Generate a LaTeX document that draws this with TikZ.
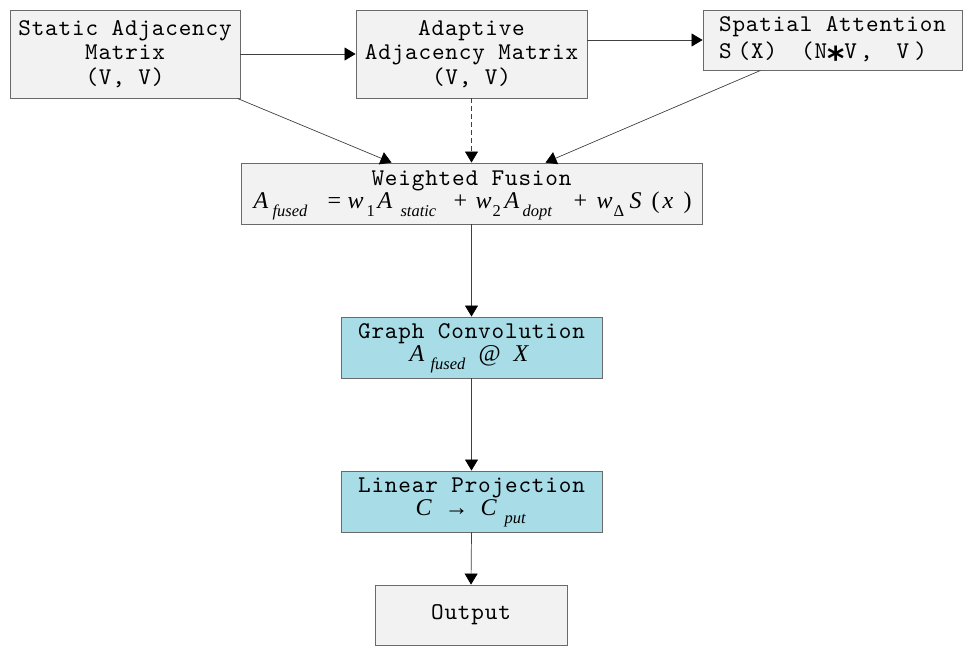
\documentclass[tikz,border=0pt]{standalone}
\usepackage{fontspec}
\setmainfont{Liberation Serif}
\newfontfamily\monofam[LetterSpace=3.5]{lmmono10-regular.otf}
\usetikzlibrary{arrows.meta}
\definecolor{boxgray}{HTML}{F2F2F2}
\definecolor{boxblue}{HTML}{A8DCE7}
\definecolor{boxline}{HTML}{6A6A6A}
\definecolor{linegray}{HTML}{404040}
\newcommand{\mt}{\monofam\fontsize{24}{24.5}\selectfont}
\newcommand{\mi}[1]{{\rmfamily\fontsize{24}{24}\selectfont\itshape #1}}
\newcommand{\mr}[1]{{\rmfamily\fontsize{24}{24}\selectfont #1}}
\newcommand{\sbi}[1]{\raisebox{-8pt}{\rmfamily\fontsize{16.5}{16.5}\selectfont\itshape #1}}
\newcommand{\sbu}[1]{\raisebox{-8pt}{\rmfamily\fontsize{16.5}{16.5}\selectfont #1}}
\newcommand{\pc}[2]{\makebox[0pt][l]{\hspace{#1pt}#2}}
\newcommand{\starsym}{\raisebox{-12pt}{\fontspec{DejaVu Sans}\fontsize{33}{33}\selectfont\bfseries *}}
\begin{document}
\begin{tikzpicture}[x=1pt,y=-1pt,
  box/.style={draw=boxline,line width=0.9pt,fill=boxgray,inner sep=0pt,align=center,font=\mt},
  bluebox/.style={box,fill=boxblue},
  arr/.style={draw=linegray,line width=0.7pt,-{Triangle[length=11pt,width=13pt,color=black]}}]
\useasboundingbox (0,0) rectangle (973,656);
\node[box,minimum width=230pt,minimum height=88pt] (static) at (125,54) {Static Adjacency\\Matrix\\(V, V)};
\node[box,minimum width=231pt,minimum height=88pt] (adapt) at (471.5,54) {Adaptive\\Adjacency Matrix\\(V, V)};
\node[box,align=left,minimum width=259pt,minimum height=60pt] (spat) at (832.5,40) {\rule{0pt}{21pt}Spatial Attention\\[2.5pt]S\hspace{6pt}(X)\hspace{24pt}(N\hspace{0pt}\starsym\hspace{0pt}V\hspace{3pt},\hspace{24pt}V\hspace{5pt})};
\node[box,minimum width=461pt,minimum height=61pt] (fuse) at (471.5,193.5) {\rule{0pt}{19pt}Weighted Fusion\\[-1.5pt]
 \makebox[436pt][l]{\pc{0}{\mi{A}}\pc{19}{\sbi{fused}}\pc{74}{\mr{=}}\pc{94}{\mi{w}}\pc{113}{\sbu{1}}\pc{124}{\mi{A}}\pc{147}{\sbi{static}}\pc{200}{\mr{+}}\pc{222}{\mi{w}}\pc{239}{\sbu{2}}\pc{251}{\mi{A}}\pc{269}{\sbi{dopt}}\pc{320}{\mr{+}}\pc{343}{\mi{w}}\pc{360}{\sbu{Δ}}\pc{376}{\mi{S}}\pc{398}{\mr{(}}\pc{409}{\mi{x}}\pc{430}{\mr{)}}}};
\node[bluebox,minimum width=261pt,minimum height=61pt] (gc) at (471.5,347.5) {\rule{0pt}{17pt}Graph Convolution\\[-1.5pt]
 \makebox[124pt][l]{\pc{0}{\mi{A}}\pc{21}{\sbi{fused}}\pc{69}{\mr{@}}\pc{104}{\mi{X}}}};
\node[bluebox,minimum width=261pt,minimum height=61pt] (lp) at (471.5,501.5) {\rule{0pt}{17pt}Linear Projection\\[-1.5pt]
 \makebox[112pt][l]{\pc{0}{\mi{C}}\pc{29}{\mr{→}}\pc{65}{\mi{C}}\pc{89}{\sbi{put}}}};
\node[box,minimum width=192pt,minimum height=60pt] (out) at (471,615) {Output};
\draw[arr] (static.east) -- (adapt.west |- static.east);
\draw[arr] (adapt.east |- spat.west) -- (spat.west);
\draw[arr] ([xshift=-3pt]static.south east) -- ([xshift=-80pt]fuse.north);
\draw[arr,dash pattern=on 5pt off 3pt] (adapt.south) -- (fuse.north);
\draw[arr] ([xshift=-72pt]spat.south) -- ([xshift=74pt]fuse.north);
\draw[arr] (fuse.south) -- (gc.north);
\draw[arr] (gc.south) -- (lp.north);
\draw[arr] (lp.south) -- (out.north);
\end{tikzpicture}
\end{document}
